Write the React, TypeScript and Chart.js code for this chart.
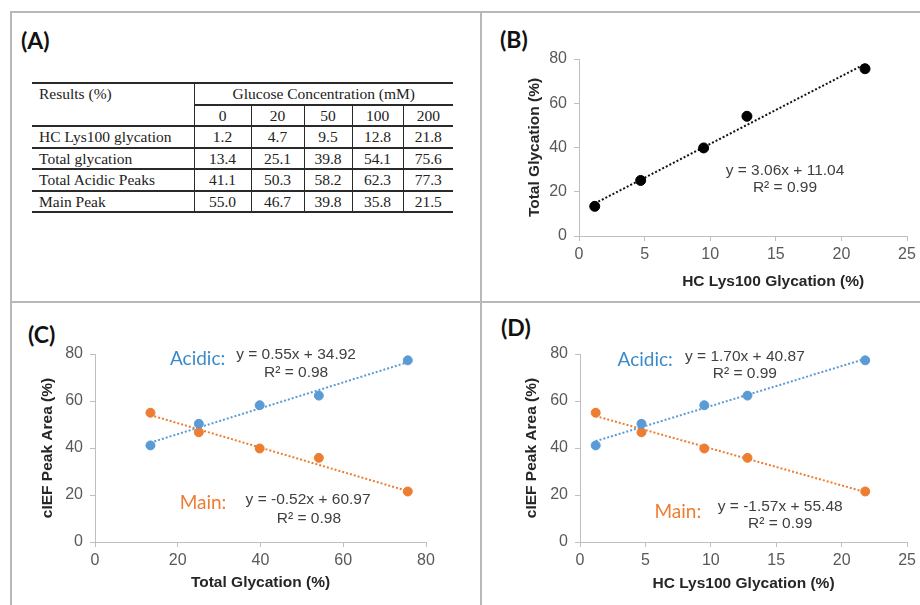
import React, { useEffect, useRef } from "react";
import { Chart, registerables } from "chart.js";

Chart.register(...registerables);

// ---------- data ----------
const glucoseLevels = ["0", "20", "50", "100", "200"];
const rowLabels = ["HC Lys100 glycation", "Total glycation", "Total Acidic Peaks", "Main Peak"];
const hcLys100 = [1.2, 4.7, 9.5, 12.8, 21.8];
const totalGlycation = [13.4, 25.1, 39.8, 54.1, 75.6];
const acidicPeaks = [41.1, 50.3, 58.2, 62.3, 77.3];
const mainPeak = [55.0, 46.7, 39.8, 35.8, 21.5];

const fitB = { slope: 3.06, intercept: 11.04, r2: 0.99 };
const fitCAcidic = { slope: 0.55, intercept: 34.92, r2: 0.98 };
const fitCMain = { slope: -0.52, intercept: 60.97, r2: 0.98 };
const fitDAcidic = { slope: 1.7, intercept: 40.87, r2: 0.99 };
const fitDMain = { slope: -1.57, intercept: 55.48, r2: 0.99 };

const hcTicks = { min: 0, max: 25, step: 5 };
const totalTicks = { min: 0, max: 80, step: 20 };
const areaTicks = { min: 0, max: 80, step: 20 };

// ---------- styles ----------
const BLUE = "#5B9BD5";
const BLUE_TEXT = "#3C8AC9";
const ORANGE = "#ED7D31";
const AXIS = "#BFBFBF";
const TICK_TXT = "#595959";
const TITLE_TXT = "#262626";
const EQ_TXT = "#404040";
const SANS = "'Liberation Sans', Arial, sans-serif";

const tableData = [hcLys100, totalGlycation, acidicPeaks, mainPeak];

function pts(xs: number[], ys: number[]) {
  return xs.map((x, i) => ({ x, y: ys[i] }));
}
function trend(xs: number[], fit: { slope: number; intercept: number }) {
  const lo = Math.min(...xs);
  const hi = Math.max(...xs);
  return [
    { x: lo, y: fit.slope * lo + fit.intercept },
    { x: hi, y: fit.slope * hi + fit.intercept },
  ];
}
function eqText(fit: { slope: number; intercept: number }) {
  return `y = ${fit.slope.toFixed(2)}x + ${fit.intercept.toFixed(2)}`;
}
function r2Text(fit: { r2: number }) {
  return `R\u00B2 = ${fit.r2.toFixed(2)}`;
}

const notesPlugin = {
  id: "notes",
  afterDatasetsDraw(chart: any, _a: any, opts: any) {
    const items = (opts && opts.items) || [];
    const ctx = chart.ctx;
    const xs = chart.scales.x;
    const ys = chart.scales.y;
    items.forEach((it: any) => {
      ctx.save();
      ctx.font = it.font;
      ctx.fillStyle = it.color;
      ctx.textAlign = "center";
      ctx.textBaseline = "middle";
      ctx.fillText(it.text, xs.getPixelForValue(it.x), ys.getPixelForValue(it.y));
      ctx.restore();
    });
  },
};

const EQ_FONT = `15.5px ${SANS}`;
const LBL_FONT = `19px Lato, 'Open Sans', sans-serif`;
const AXIS_TITLE_FONT = { family: SANS, size: 15.5, weight: "bold" as const };

function scaleOpts(
  t: { min: number; max: number; step: number },
  size: number,
  horizontal: boolean,
  title: string | null,
  titlePad: number
) {
  return {
    type: "linear",
    position: horizontal ? "bottom" : "left",
    min: t.min,
    max: t.max,
    ticks: {
      stepSize: t.step,
      color: TICK_TXT,
      font: { family: SANS, size: 16 },
      padding: horizontal ? 4 : 7,
      maxRotation: 0,
    },
    grid: {
      display: true,
      drawOnChartArea: false,
      drawTicks: true,
      tickLength: 5,
      color: AXIS,
      lineWidth: 1,
    },
    border: { display: true, color: AXIS, width: 1 },
    title: title
      ? {
          display: true,
          text: title,
          color: TITLE_TXT,
          font: AXIS_TITLE_FONT,
          padding: horizontal ? { top: 0, bottom: titlePad } : { top: titlePad, bottom: 0 },
        }
      : { display: false },
    afterFit: (s: any) => {
      if (horizontal) s.height = size;
      else s.width = size;
    },
  };
}

type PanelProps = {
  left: number;
  top: number;
  width: number;
  height: number;
  build: () => any;
};

function ChartPanel({ left, top, width, height, build }: PanelProps) {
  const ref = useRef<HTMLCanvasElement | null>(null);
  useEffect(() => {
    if (!ref.current) return;
    const chart = new Chart(ref.current, build());
    return () => chart.destroy();
  }, []);
  return (
    <canvas
      ref={ref}
      width={width}
      height={height}
      style={{ position: "absolute", left, top, width, height, display: "block" }}
    />
  );
}

function pointSet(data: any[], color: string, r: number) {
  return {
    type: "scatter",
    data,
    backgroundColor: color,
    borderColor: color,
    pointRadius: r,
    pointHoverRadius: r,
    showLine: false,
    order: 1,
  };
}
function lineSet(data: any[], color: string) {
  return {
    type: "line",
    data,
    borderColor: color,
    borderWidth: 2,
    borderDash: [2, 2],
    pointRadius: 0,
    showLine: true,
    fill: false,
    order: 2,
  };
}

function buildB() {
  const tf = 15.5;
  return {
    type: "scatter",
    data: {
      datasets: [
        lineSet(trend(hcLys100, fitB), "#111"),
        pointSet(pts(hcLys100, totalGlycation), "#000", 5),
      ],
    },
    options: {
      responsive: false,
      animation: false,
      events: [],
      layout: { padding: { left: 0, top: 46, right: 13, bottom: 0 } },
      scales: {
        x: scaleOpts(hcTicks, 65, true, null, 0),
        y: scaleOpts(totalTicks, 97, false, "Total Glycation (%)", 53 - tf * 0.6),
      },
      plugins: {
        legend: { display: false },
        tooltip: { enabled: false },
        notes: {
          items: [
            { text: eqText(fitB), x: 15.7, y: 29.4, font: EQ_FONT, color: EQ_TXT },
            { text: r2Text(fitB), x: 15.7, y: 21.7, font: EQ_FONT, color: EQ_TXT },
            {
              text: "HC Lys100 Glycation (%)",
              x: 14.8,
              y: -20.8,
              font: `bold ${tf}px ${SANS}`,
              color: TITLE_TXT,
            },
          ],
        },
      },
    },
    plugins: [notesPlugin],
  };
}

function buildCD(
  xs: number[],
  xt: { min: number; max: number; step: number },
  xTitle: string,
  fitA: any,
  fitM: any,
  geom: { padTop: number; padRight: number; yW: number; xH: number; yTitleX: number; xTitleFromBottom: number },
  notes: any[]
) {
  const half = AXIS_TITLE_FONT.size * 0.6;
  return {
    type: "scatter",
    data: {
      datasets: [
        lineSet(trend(xs, fitA), BLUE),
        lineSet(trend(xs, fitM), ORANGE),
        pointSet(pts(xs, acidicPeaks), BLUE, 4.5),
        pointSet(pts(xs, mainPeak), ORANGE, 4.5),
      ],
    },
    options: {
      responsive: false,
      animation: false,
      events: [],
      layout: { padding: { left: 0, top: geom.padTop, right: geom.padRight, bottom: 0 } },
      scales: {
        x: scaleOpts(xt, geom.xH, true, xTitle, geom.xTitleFromBottom - half),
        y: scaleOpts(areaTicks, geom.yW, false, "cIEF Peak Area (%)", geom.yTitleX - half),
      },
      plugins: {
        legend: { display: false },
        tooltip: { enabled: false },
        notes: { items: notes },
      },
    },
    plugins: [notesPlugin],
  };
}

function buildC() {
  return buildCD(
    totalGlycation,
    totalTicks,
    "Total Glycation (%)",
    fitCAcidic,
    fitCMain,
    { padTop: 51, padRight: 54, yW: 83, xH: 63, yTitleX: 36, xTitleFromBottom: 22 },
    [
      { text: "Acidic:", x: 24.8, y: 77.9, font: LBL_FONT, color: BLUE_TEXT },
      { text: eqText(fitCAcidic), x: 48.6, y: 79.6, font: EQ_FONT, color: EQ_TXT },
      { text: r2Text(fitCAcidic), x: 48.6, y: 71.9, font: EQ_FONT, color: EQ_TXT },
      { text: "Main:", x: 26.1, y: 16.7, font: LBL_FONT, color: ORANGE },
      { text: eqText(fitCMain), x: 51.5, y: 18.0, font: EQ_FONT, color: EQ_TXT },
      { text: r2Text(fitCMain), x: 51.7, y: 9.8, font: EQ_FONT, color: EQ_TXT },
    ]
  );
}

function buildD() {
  return buildCD(
    hcLys100,
    hcTicks,
    "HC Lys100 Glycation (%)",
    fitDAcidic,
    fitDMain,
    { padTop: 51, padRight: 9, yW: 98, xH: 63, yTitleX: 50, xTitleFromBottom: 21 },
    [
      { text: "Acidic:", x: 4.98, y: 77.4, font: LBL_FONT, color: BLUE_TEXT },
      { text: eqText(fitDAcidic), x: 12.6, y: 78.7, font: EQ_FONT, color: EQ_TXT },
      { text: r2Text(fitDAcidic), x: 12.6, y: 71.4, font: EQ_FONT, color: EQ_TXT },
      { text: "Main:", x: 7.48, y: 12.8, font: LBL_FONT, color: ORANGE },
      { text: eqText(fitDMain), x: 15.3, y: 15.0, font: EQ_FONT, color: EQ_TXT },
      { text: r2Text(fitDMain), x: 15.3, y: 7.7, font: EQ_FONT, color: EQ_TXT },
    ]
  );
}

const BORDER = "#B8B8B8";
const TBL_LINE = "2px solid #2a2a2a";
const TBL_VLINE = "1.5px solid #2a2a2a";

function ResultsTable() {
  const cell: React.CSSProperties = {
    padding: 0,
    height: 19.5,
    textAlign: "center",
    verticalAlign: "middle",
    borderTop: TBL_LINE,
    borderBottom: TBL_LINE,
    whiteSpace: "nowrap",
  };
  return (
    <table
      style={{
        position: "absolute",
        left: 32,
        top: 82,
        width: 421,
        borderCollapse: "collapse",
        tableLayout: "fixed",
        fontFamily: "'Liberation Serif', 'Times New Roman', serif",
        fontSize: 15.5,
        color: "#222",
        lineHeight: "17px",
      }}
    >
      <colgroup>
        <col style={{ width: 162 }} />
        <col style={{ width: 57 }} />
        <col style={{ width: 53 }} />
        <col style={{ width: 48 }} />
        <col style={{ width: 51 }} />
        <col style={{ width: 50 }} />
      </colgroup>
      <tbody>
        <tr>
          <td
            rowSpan={2}
            style={{ ...cell, textAlign: "left", verticalAlign: "top", paddingLeft: 7, paddingTop: 1, borderRight: TBL_VLINE }}
          >
            Results (%)
          </td>
          <td colSpan={5} style={{ ...cell }}>
            Glucose Concentration (mM)
          </td>
        </tr>
        <tr>
          {glucoseLevels.map((g, i) => (
            <td key={g} style={{ ...cell, borderRight: i < glucoseLevels.length - 1 ? TBL_VLINE : "none" }}>
              {g}
            </td>
          ))}
        </tr>
        {rowLabels.map((lab, r) => (
          <tr key={lab}>
            <td style={{ ...cell, textAlign: "left", paddingLeft: 7, borderRight: TBL_VLINE }}>{lab}</td>
            {tableData[r].map((v, i) => (
              <td key={i} style={{ ...cell, borderRight: i < 4 ? TBL_VLINE : "none" }}>
                {v.toFixed(1)}
              </td>
            ))}
          </tr>
        ))}
      </tbody>
    </table>
  );
}

const panelLabel: React.CSSProperties = {
  position: "absolute",
  fontFamily: "Lato, 'Open Sans', sans-serif",
  fontWeight: 700,
  fontSize: 23,
  lineHeight: "24px",
  color: "#111",
};

export default function App() {
  return (
    <div
      style={{
        position: "absolute",
        left: 0,
        top: 0,
        width: 920,
        height: 605,
        background: "#fff",
        overflow: "hidden",
      }}
    >
      {/* panel frame */}
      <div style={{ position: "absolute", left: 10, top: 11, width: 910, height: 2, background: BORDER }} />
      <div style={{ position: "absolute", left: 10, top: 11, width: 2, height: 594, background: BORDER }} />
      <div style={{ position: "absolute", left: 480, top: 11, width: 2, height: 594, background: BORDER }} />
      <div style={{ position: "absolute", left: 10, top: 301, width: 910, height: 2, background: BORDER }} />

      <div style={{ ...panelLabel, left: 21, top: 28 }}>(A)</div>
      <div style={{ ...panelLabel, left: 500, top: 27 }}>(B)</div>
      <div style={{ ...panelLabel, left: 28, top: 322 }}>(C)</div>
      <div style={{ ...panelLabel, left: 501, top: 315 }}>(D)</div>

      <ResultsTable />

      <ChartPanel left={482} top={13} width={438} height={288} build={buildB} />
      <ChartPanel left={12} top={303} width={468} height={302} build={buildC} />
      <ChartPanel left={482} top={303} width={438} height={302} build={buildD} />
    </div>
  );
}
